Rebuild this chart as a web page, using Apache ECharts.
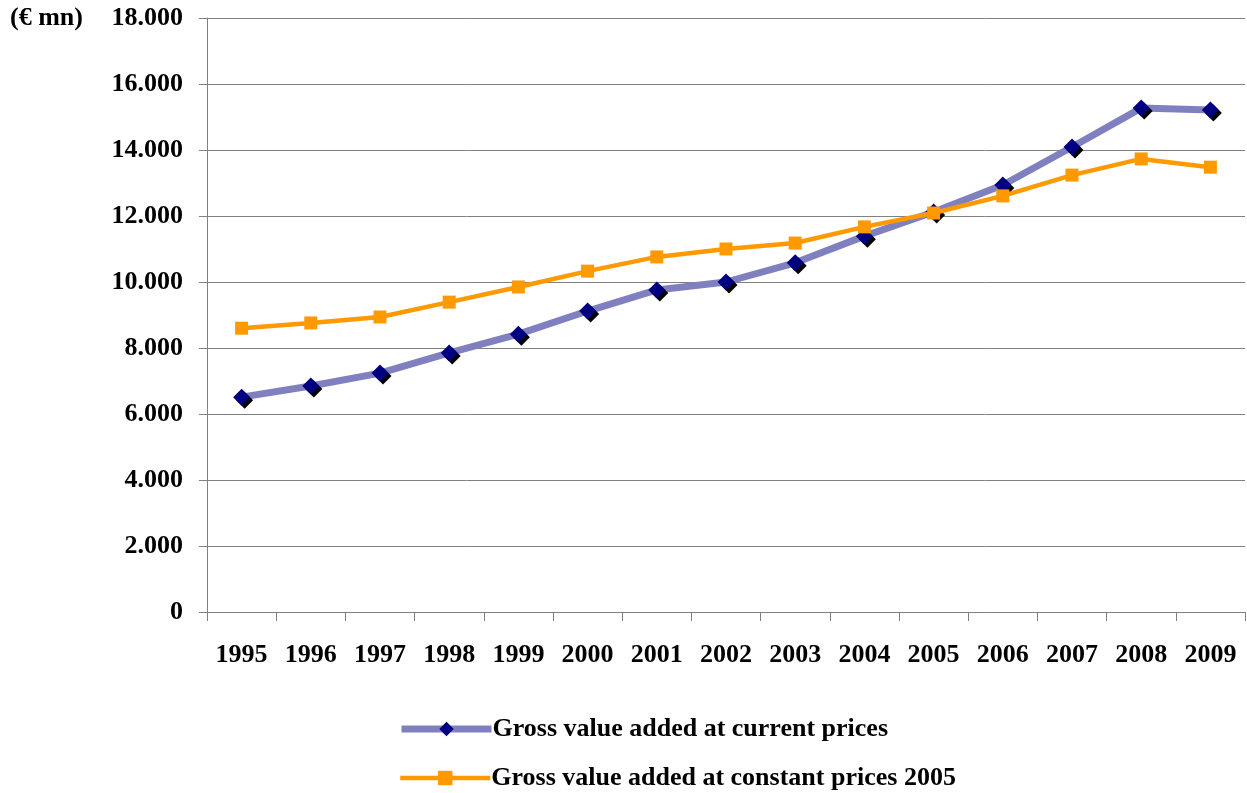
<!DOCTYPE html>
<html><head><meta charset="utf-8">
<script src="https://cdn.jsdelivr.net/npm/echarts@6/dist/echarts.min.js"></script>
<style>html,body{margin:0;padding:0;background:#fff}#c{width:1247px;height:793px}</style>
</head><body><div id="c"></div>
<script>
const years = ['1995','1996','1997','1998','1999','2000','2001','2002','2003','2004','2005','2006','2007','2008','2009'];
const currentPrices = [6510, 6850, 7240, 7850, 8420, 9120, 9760, 10000, 10580, 11390, 12120, 12940, 14090, 15270, 15210];
const constantPrices = [8600, 8760, 8940, 9390, 9850, 10330, 10760, 11000, 11180, 11670, 12090, 12610, 13240, 13730, 13480];
const seriesNames = ['Gross value added at current prices', 'Gross value added at constant prices 2005'];
const unitLabel = '(€ mn)';

const FONT = '"Liberation Serif", "Times New Roman", serif';
const FS = 26;
const legendBase = {
  orient: 'horizontal', left: 393, itemWidth: 90, itemHeight: 18,
  textStyle: {fontFamily: FONT, fontWeight: 'bold', fontSize: FS, color: '#000', padding: [0,0,0,-4]}
};
const chart = echarts.init(document.getElementById('c'));
chart.setOption({
  animation: false,
  textStyle: {fontFamily: FONT},
  grid: {left: 207, right: 2, top: 18, bottom: 181},
  graphic: [{type: 'text', left: 10, top: 5, style: {text: unitLabel, font: 'bold ' + FS + 'px ' + FONT, fill: '#000'}}],
  legend: [
    Object.assign({}, legendBase, {top: 711, data: [
      {name: seriesNames[0], lineStyle: {width: 7, color: '#8080C0'}, itemStyle: {color: '#000080', shadowBlur: 0, shadowOffsetX: 0, shadowOffsetY: 0}}
    ]}),
    Object.assign({}, legendBase, {top: 760, data: [
      {name: seriesNames[1], lineStyle: {width: 4.5, color: '#FF9900'}, itemStyle: {color: '#FF9900'}}
    ]})
  ],
  xAxis: {
    type: 'category', data: years, boundaryGap: true,
    axisLine: {lineStyle: {color: '#808080', width: 1}},
    axisTick: {show: true, length: 9, lineStyle: {color: '#808080'}},
    axisLabel: {color: '#000', fontWeight: 'bold', fontSize: FS, fontFamily: FONT, margin: 30}
  },
  yAxis: {
    type: 'value', min: 0, max: 18000, interval: 2000,
    axisLine: {show: true, lineStyle: {color: '#808080', width: 1}},
    axisTick: {show: true, length: 8, inside: false, lineStyle: {color: '#808080'}},
    splitLine: {lineStyle: {color: '#808080', width: 1}},
    axisLabel: {color: '#000', fontWeight: 'bold', fontSize: FS, fontFamily: FONT, margin: 24,
      formatter: v => v === 0 ? '0' : String(v).replace(/\B(?=(\d{3})+(?!\d))/g, '.')}
  },
  series: [
    {name: seriesNames[0], type: 'line', data: currentPrices, symbol: 'diamond', symbolSize: 17,
     lineStyle: {color: '#8080C0', width: 7}, itemStyle: {color: '#000080', shadowColor: '#000', shadowOffsetX: 3, shadowOffsetY: 3, shadowBlur: 0},
     z: 2},
    {name: seriesNames[1], type: 'line', data: constantPrices, symbol: 'rect', symbolSize: 13,
     lineStyle: {color: '#FF9900', width: 4.5}, itemStyle: {color: '#FF9900'}, z: 3}
  ]
});
</script></body></html>
